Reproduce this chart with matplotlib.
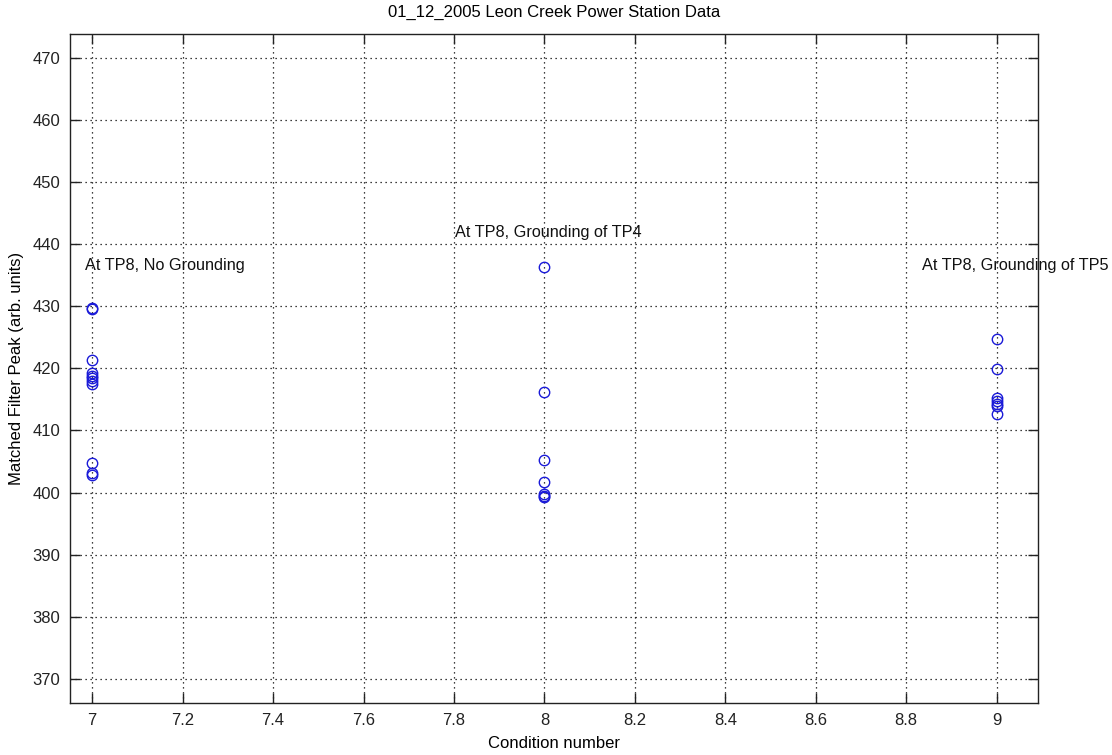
import matplotlib.pyplot as plt
import numpy as np

# condition number and matched filter peak for each measurement
cond_7 = [429.6, 429.8, 421.3, 419.2, 418.8, 418.4, 417.9, 417.5, 404.7, 403.1, 402.8]
cond_8 = [436.4, 416.2, 405.3, 401.7, 399.8, 399.5, 399.3]
cond_9 = [424.8, 419.9, 415.3, 414.8, 414.3, 413.9, 412.7]

labels = ['At TP8, No Grounding', 'At TP8, Grounding of TP4', 'At TP8, Grounding of TP5']
label_x = [6.984, 7.802, 8.835]
label_y = [436.6, 441.9, 436.6]

x = np.concatenate([np.full(len(cond_7), 7), np.full(len(cond_8), 8), np.full(len(cond_9), 9)])
y = np.array(cond_7 + cond_8 + cond_9)

plt.rcParams["font.family"] = ["Liberation Sans", "DejaVu Sans"]
font_size = 12

fig = plt.figure(figsize=(11.12, 7.55), dpi=100)
ax = fig.add_axes([0.063, 0.069, 0.8702, 0.886])

ax.plot(x, y, 'o', mfc='none', mec='#1a1ad8', ms=7.5, mew=1.0, zorder=3)

for lx, ly, s in zip(label_x, label_y, labels):
    ax.text(lx, ly, s, fontsize=11.7, ha='left', va='center', color='#111111', clip_on=False)

ax.set_xlim(6.951, 9.091)
ax.set_ylim(366.1, 473.9)
ax.set_xticks(np.arange(7, 9.01, 0.2))
ax.set_xticklabels(['7', '7.2', '7.4', '7.6', '7.8', '8', '8.2', '8.4', '8.6', '8.8', '9'])
ax.set_yticks(np.arange(370, 471, 10))

ax.grid(True, linestyle=(0, (1, 3)), color='black', linewidth=0.9)
ax.tick_params(direction='in', length=7, width=1, labelsize=font_size,
               top=True, right=True, colors='#222222', pad=7)
for sp in ax.spines.values():
    sp.set_color('#222222')
    sp.set_linewidth(1)

ax.set_title('01_12_2005 Leon Creek Power Station Data', fontsize=font_size, pad=12)
ax.set_xlabel('Condition number', fontsize=font_size, labelpad=6)
ax.set_ylabel('Matched Filter Peak (arb. units)', fontsize=font_size, labelpad=6)

fig.savefig('out.png', dpi=100)
